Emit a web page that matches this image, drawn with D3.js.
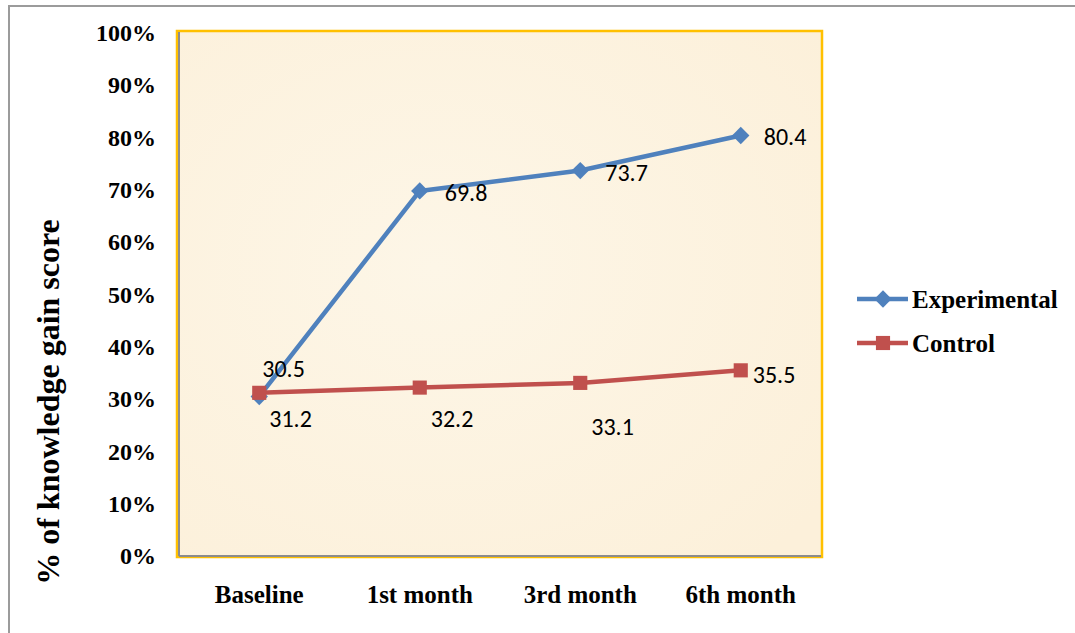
<!DOCTYPE html>
<html>
<head>
<meta charset="utf-8">
<script src="https://cdn.jsdelivr.net/npm/d3@7"></script>
<style>
  body { margin: 0; background: #fff; }
  svg { display: block; }
</style>
</head>
<body>
<div id="chart"></div>
<script>
// chart data
const categories = ["Baseline", "1st month", "3rd month", "6th month"]
const experimental = [30.5, 69.8, 73.7, 80.4]
const control = [31.2, 32.2, 33.1, 35.5]
const yTicks = [0, 10, 20, 30, 40, 50, 60, 70, 80, 90, 100]

// label nudges (px) relative to each point
const expLabelOffsets = [[3, -28], [25, 2], [25, 2], [23, 1]]
const ctlLabelOffsets = [[10, 26], [11, 31], [11, 44], [12, 4]]

const W = 1075, H = 633
const margin = {top: 33, right: 254, bottom: 77, left: 179}
const width = 821 - margin.left
const height = 556 - margin.top
const serif = "'Liberation Serif', 'Times New Roman', serif"

const svg = d3.select("#chart")
    .append("svg")
    .attr("width", W)
    .attr("height", H)

// outer frame (only top and left visible)
svg.append("path")
    .attr("d", `M9,${H} V6 H${W}`)
    .attr("fill", "none")
    .attr("stroke", "#9b9b9b")
    .attr("stroke-width", 2)

const defs = svg.append("defs")
const grad = defs.append("radialGradient").attr("id", "bg")
    .attr("cx", "40%").attr("cy", "45%").attr("r", "75%")
grad.append("stop").attr("offset", "0%").attr("stop-color", "#fdf6e7")
grad.append("stop").attr("offset", "100%").attr("stop-color", "#fcf0da")

const g = svg.append("g")
    .attr("transform", `translate(${margin.left},${margin.top})`)

// plot area
g.append("rect")
    .attr("x", -2).attr("y", -2)
    .attr("width", width + 3).attr("height", height + 3)
    .attr("fill", "url(#bg)")
    .attr("stroke", "#ffc000")
    .attr("stroke-width", 2.5)

const x = d3.scaleBand()
    .domain(categories)
    .range([0, width])

const y = d3.scaleLinear()
    .domain([0, 100])
    .range([height, 0])

// gray axis lines inside the orange frame
g.append("line")
    .attr("x1", 0).attr("x2", 0)
    .attr("y1", -1).attr("y2", height)
    .attr("stroke", "#8c8c8c").attr("stroke-width", 2)
g.append("line")
    .attr("x1", 0).attr("x2", width)
    .attr("y1", height).attr("y2", height)
    .attr("stroke", "#8c8c8c").attr("stroke-width", 2)

// y axis
const yAxis = g.append("g")
    .call(d3.axisLeft(y).tickValues(yTicks).tickFormat(d => d + "%").tickSize(0).tickPadding(23))
yAxis.select(".domain").remove()
yAxis.selectAll("text")
    .attr("font-family", serif)
    .attr("font-weight", "bold")
    .attr("font-size", 24)
    .attr("fill", "#000")

// x axis
const xAxis = g.append("g")
    .attr("transform", `translate(0,${height})`)
    .call(d3.axisBottom(x).tickSize(0).tickPadding(29))
xAxis.select(".domain").remove()
xAxis.selectAll("text")
    .attr("font-family", serif)
    .attr("font-weight", "bold")
    .attr("font-size", 25)
    .attr("fill", "#000")

// y axis title
svg.append("text")
    .attr("transform", `translate(59,402) rotate(-90)`)
    .attr("text-anchor", "middle")
    .attr("font-family", serif)
    .attr("font-weight", "bold")
    .attr("font-size", 32)
    .text("% of knowledge gain score")

const cx = d => x(d) + x.bandwidth() / 2
const line = d3.line()
    .x((d, i) => cx(categories[i]))
    .y(d => y(d))

const series = [
    {name: "Experimental", values: experimental, color: "#4f81bd", shape: d3.symbolSquare, size: 150, rot: 45, offsets: expLabelOffsets},
    {name: "Control", values: control, color: "#c0504d", shape: d3.symbolSquare, size: 200, rot: 0, offsets: ctlLabelOffsets}
]

series.forEach(s => {
    g.append("path")
        .datum(s.values)
        .attr("d", line)
        .attr("fill", "none")
        .attr("stroke", s.color)
        .attr("stroke-width", 4.5)
        .attr("stroke-linejoin", "round")

    g.selectAll(null)
        .data(s.values)
        .join("path")
        .attr("d", d3.symbol().type(s.shape).size(s.size))
        .attr("transform", (d, i) => `translate(${cx(categories[i])},${y(d)}) rotate(${s.rot})`)
        .attr("fill", s.color)
})

// data labels drawn on top
series.forEach(s => {
    g.selectAll(null)
        .data(s.values)
        .join("text")
        .attr("x", (d, i) => cx(categories[i]) + s.offsets[i][0])
        .attr("y", (d, i) => y(d) + s.offsets[i][1])
        .attr("dy", "0.35em")
        .attr("font-family", "Carlito, Lato, 'Open Sans', sans-serif")
        .attr("font-size", 24)
        .attr("fill", "#000")
        .text(d => d.toFixed(1))
})

// legend
const legend = svg.append("g")
    .attr("transform", "translate(857,299)")
series.forEach((s, i) => {
    const row = legend.append("g").attr("transform", `translate(0,${i * 44})`)
    row.append("line")
        .attr("x1", 0).attr("x2", 51)
        .attr("stroke", s.color).attr("stroke-width", 4.5)
    row.append("path")
        .attr("d", d3.symbol().type(s.shape).size(s.size))
        .attr("transform", `translate(26,0) rotate(${s.rot})`)
        .attr("fill", s.color)
    row.append("text")
        .attr("x", 55)
        .attr("dy", "0.35em")
        .attr("font-family", serif)
        .attr("font-weight", "bold")
        .attr("font-size", 25)
        .text(s.name)
})
</script>
</body>
</html>
